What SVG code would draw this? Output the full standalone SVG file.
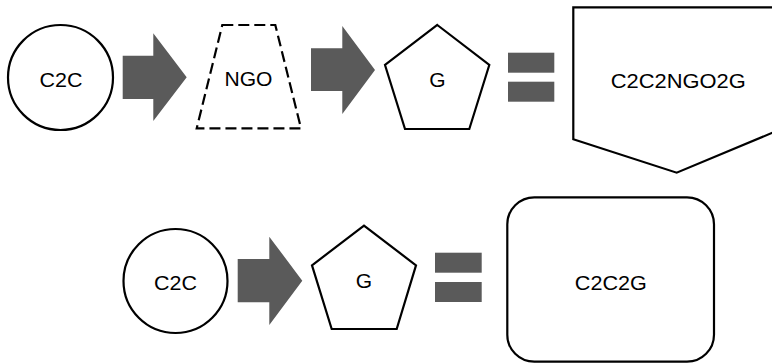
<svg xmlns="http://www.w3.org/2000/svg" width="772" height="363" viewBox="0 0 772 363">
  <style>
    .shape { fill: #ffffff; stroke: #000000; stroke-width: 2.2; stroke-linejoin: miter; }
    .dashed { stroke-dasharray: 11 5; }
    .label { font-family: "Liberation Sans", Arial, sans-serif; font-size: 21px; fill: #000000; text-anchor: middle; }
    .flow { fill: #5a5a5a; }
  </style>
  <rect width="772" height="363" fill="#ffffff"/>

  <!-- top row -->
  <g id="c2c-top">
    <circle class="shape" cx="60.5" cy="77.5" r="52.5"/>
    <text class="label" x="61" y="86.8" textLength="43" lengthAdjust="spacingAndGlyphs">C2C</text>
  </g>
  <g id="ngo">
    <polygon class="shape dashed" points="222.3,25 275.3,25 301,128.3 196.7,128.3"/>
    <text class="label" x="248.5" y="86.3" textLength="48" lengthAdjust="spacingAndGlyphs">NGO</text>
  </g>
  <g id="g-top">
    <polygon class="shape" points="437.3,25 489.3,65 469.3,129 405,129 385,65"/>
    <text class="label" x="437.3" y="86.5">G</text>
  </g>
  <g id="c2c2ngo2g">
    <polyline class="shape" points="773,7.3 573.3,7.3 573.3,139.3 676.7,172.7 773,132.5"/>
    <text class="label" x="678.3" y="87.6" textLength="135" lengthAdjust="spacingAndGlyphs">C2C2NGO2G</text>
  </g>

  <!-- bottom row -->
  <g id="c2c-bottom">
    <circle class="shape" cx="175.5" cy="281" r="52"/>
    <text class="label" x="175.5" y="289.5" textLength="43" lengthAdjust="spacingAndGlyphs">C2C</text>
  </g>
  <g id="g-bottom">
    <polygon class="shape" points="364,225.7 416,265.3 396.7,329 331.7,329 312,265.3"/>
    <text class="label" x="364" y="287.5">G</text>
  </g>
  <g id="c2c2g">
    <rect class="shape" x="507.3" y="197.3" width="206.7" height="164.4" rx="27" ry="27"/>
    <text class="label" x="610.8" y="289.5" textLength="72" lengthAdjust="spacingAndGlyphs">C2C2G</text>
  </g>

  <!-- connectors: block arrows and equals signs -->
  <g id="connectors">
    <polygon class="flow" points="122.7,55.7 153.3,55.7 153.3,33.3 186.7,77.3 153.3,121 153.3,99 122.7,99"/>
    <polygon class="flow" points="311,48.3 342.3,48.3 342.3,26 375,70 342.3,114 342.3,91 311,91"/>
    <rect class="flow" x="508" y="52.7" width="46.3" height="20"/>
    <rect class="flow" x="508" y="81.7" width="46.3" height="20"/>
    <polygon class="flow" points="237.7,259 269.3,259 269.3,236.7 302.3,280.7 269.3,325 269.3,302.3 237.7,302.3"/>
    <rect class="flow" x="435" y="252.7" width="46.7" height="20"/>
    <rect class="flow" x="435" y="282" width="46.7" height="20"/>
  </g>
</svg>
